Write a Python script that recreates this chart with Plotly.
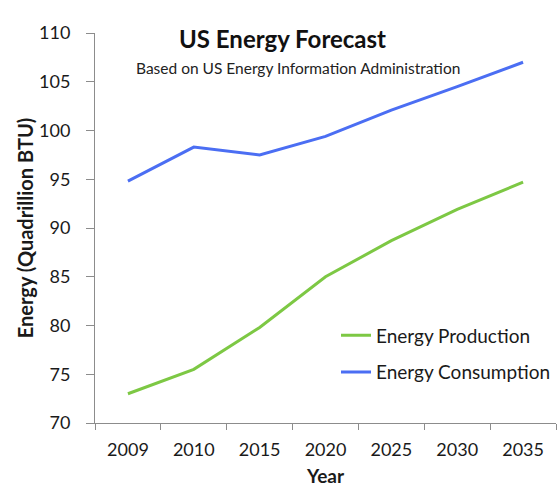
import plotly.graph_objects as go

years = ["2009", "2010", "2015", "2020", "2025", "2030", "2035"]
production = [73.0, 75.5, 79.8, 85.0, 88.7, 91.9, 94.7]
consumption = [94.8, 98.3, 97.5, 99.4, 102.1, 104.5, 107.0]

FONT = "Lato, 'Open Sans', sans-serif"
AXIS_GRAY = "#8c8c8c"
TXT = "#1a1a1a"

L, R, T, B = 95, 3, 33, 64
W, H = 559, 487
pw, ph = W - L - R, H - T - B

def px_to_paper(x, y):
    return (x - L) / pw, (H - y - B) / ph

fig = go.Figure()
fig.add_trace(go.Scatter(x=years, y=production, mode="lines", name="Energy Production",
                         line=dict(color="#7dc844", width=3), legendgroup="p"))
fig.add_trace(go.Scatter(x=years, y=consumption, mode="lines", name="Energy Consumption",
                         line=dict(color="#4b6ef3", width=3), legendgroup="c"))

tx, ty = px_to_paper(282, 22)
sx, sy = px_to_paper(298, 57)
lx, ly = px_to_paper(556, 354)

fig.update_layout(
    width=W, height=H,
    margin=dict(l=L, r=R, t=T, b=B),
    paper_bgcolor="white", plot_bgcolor="white",
    font=dict(family=FONT, color=TXT),
    showlegend=True,
    legend=dict(x=1.0, y=ly, xanchor="right", yanchor="middle",
                font=dict(size=19, family=FONT, color=TXT),
                itemwidth=30, tracegroupgap=9, bgcolor="rgba(0,0,0,0)"),
    annotations=[
        dict(text="<b>US Energy Forecast</b>", x=tx, y=ty, xref="paper", yref="paper",
             showarrow=False, font=dict(size=24, family=FONT, color="#111")),
        dict(text="Based on US Energy Information Administration", x=sx, y=sy,
             xref="paper", yref="paper",
             showarrow=False, font=dict(size=15.5, family=FONT, color="#222")),
    ],
)

fig.update_xaxes(
    type="category", range=[-0.5, 6.5], automargin=False,
    showline=True, linecolor=AXIS_GRAY, linewidth=1,
    ticks="outside", ticklen=6, tickcolor=AXIS_GRAY,
    tickson="boundaries", showgrid=False, zeroline=False,
    ticklabelstandoff=10, tickangle=0,
    tickfont=dict(size=18, family=FONT, color=TXT),
    title=dict(text="<b>Year</b>", font=dict(size=19, family=FONT, color=TXT), standoff=15),
)
fig.update_yaxes(
    range=[70, 110], dtick=5, tick0=70, automargin=False,
    showline=True, linecolor=AXIS_GRAY, linewidth=1,
    ticks="outside", ticklen=8, tickcolor=AXIS_GRAY,
    showgrid=False, zeroline=False,
    ticklabelstandoff=12,
    tickfont=dict(size=18, family=FONT, color=TXT),
    title=dict(text="<b>Energy (Quadrillion BTU)</b>", font=dict(size=20, family=FONT, color=TXT), standoff=0),
)

fig.write_html("out.html")
